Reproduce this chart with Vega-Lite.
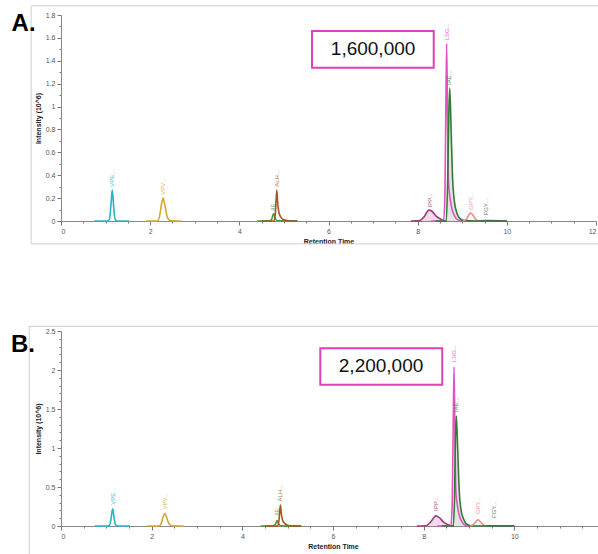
{
  "$schema": "https://vega.github.io/schema/vega-lite/v6.json",
  "padding": {"left": 10, "top": 5, "right": 0, "bottom": 0},
  "config": {"font": "Liberation Sans", "view": {"stroke": null}, "axis": {"grid": false}},
  "spacing": 80,
  "datasets": {
    "one": [{}],
    "linesA": [
      {"s": "VPE", "t": 0.75, "v": 0}, {"s": "VPE", "t": 1.05, "v": 0}, {"s": "VPE", "t": 1.09, "v": 0.02}, {"s": "VPE", "t": 1.12, "v": 0.14}, {"s": "VPE", "t": 1.15, "v": 0.27}, {"s": "VPE", "t": 1.18, "v": 0.13}, {"s": "VPE", "t": 1.21, "v": 0.02}, {"s": "VPE", "t": 1.26, "v": 0}, {"s": "VPE", "t": 1.52, "v": 0},
      {"s": "VPV", "t": 1.9, "v": 0}, {"s": "VPV", "t": 2.16, "v": 0}, {"s": "VPV", "t": 2.21, "v": 0.04}, {"s": "VPV", "t": 2.25, "v": 0.14}, {"s": "VPV", "t": 2.29, "v": 0.2}, {"s": "VPV", "t": 2.33, "v": 0.14}, {"s": "VPV", "t": 2.38, "v": 0.04}, {"s": "VPV", "t": 2.45, "v": 0.005}, {"s": "VPV", "t": 2.7, "v": 0},
      {"s": "IIE", "t": 4.4, "v": 0}, {"s": "IIE", "t": 4.68, "v": 0}, {"s": "IIE", "t": 4.73, "v": 0.02}, {"s": "IIE", "t": 4.77, "v": 0.065}, {"s": "IIE", "t": 4.8, "v": 0.03}, {"s": "IIE", "t": 4.84, "v": 0.004}, {"s": "IIE", "t": 5.3, "v": 0},
      {"s": "ALH", "t": 4.5, "v": 0}, {"s": "ALH", "t": 4.78, "v": 0}, {"s": "ALH", "t": 4.81, "v": 0.08}, {"s": "ALH", "t": 4.84, "v": 0.27}, {"s": "ALH", "t": 4.86, "v": 0.16}, {"s": "ALH", "t": 4.89, "v": 0.07}, {"s": "ALH", "t": 4.94, "v": 0.03}, {"s": "ALH", "t": 5.0, "v": 0.01}, {"s": "ALH", "t": 5.1, "v": 0.002}, {"s": "ALH", "t": 5.3, "v": 0},
      {"s": "IPP", "t": 7.85, "v": 0}, {"s": "IPP", "t": 8.05, "v": 0.003}, {"s": "IPP", "t": 8.15, "v": 0.04}, {"s": "IPP", "t": 8.25, "v": 0.095}, {"s": "IPP", "t": 8.32, "v": 0.085}, {"s": "IPP", "t": 8.42, "v": 0.04}, {"s": "IPP", "t": 8.52, "v": 0.015}, {"s": "IPP", "t": 8.6, "v": 0.003}, {"s": "IPP", "t": 8.65, "v": 0},
      {"s": "LSG", "t": 8.3, "v": 0}, {"s": "LSG", "t": 8.58, "v": 0}, {"s": "LSG", "t": 8.61, "v": 0.2}, {"s": "LSG", "t": 8.63, "v": 0.9}, {"s": "LSG", "t": 8.65, "v": 1.55}, {"s": "LSG", "t": 8.67, "v": 0.9}, {"s": "LSG", "t": 8.69, "v": 0.35}, {"s": "LSG", "t": 8.72, "v": 0.22}, {"s": "LSG", "t": 8.76, "v": 0.12}, {"s": "LSG", "t": 8.82, "v": 0.05}, {"s": "LSG", "t": 8.9, "v": 0.01}, {"s": "LSG", "t": 9.0, "v": 0},
      {"s": "IAE", "t": 8.4, "v": 0}, {"s": "IAE", "t": 8.64, "v": 0}, {"s": "IAE", "t": 8.67, "v": 0.3}, {"s": "IAE", "t": 8.7, "v": 0.95}, {"s": "IAE", "t": 8.72, "v": 1.16}, {"s": "IAE", "t": 8.75, "v": 0.8}, {"s": "IAE", "t": 8.78, "v": 0.4}, {"s": "IAE", "t": 8.82, "v": 0.18}, {"s": "IAE", "t": 8.88, "v": 0.07}, {"s": "IAE", "t": 8.95, "v": 0.02}, {"s": "IAE", "t": 9.05, "v": 0.003}, {"s": "IAE", "t": 9.3, "v": 0}, {"s": "IAE", "t": 10.0, "v": 0},
      {"s": "GPY", "t": 9.02, "v": 0}, {"s": "GPY", "t": 9.1, "v": 0.02}, {"s": "GPY", "t": 9.16, "v": 0.06}, {"s": "GPY", "t": 9.19, "v": 0.07}, {"s": "GPY", "t": 9.24, "v": 0.05}, {"s": "GPY", "t": 9.3, "v": 0.015}, {"s": "GPY", "t": 9.38, "v": 0},
      {"s": "FGY", "t": 9.3, "v": 0}, {"s": "FGY", "t": 9.5, "v": 0.003}, {"s": "FGY", "t": 9.6, "v": 0.003}, {"s": "FGY", "t": 10.0, "v": 0}
    ],
    "labelsA": [
      {"s": "VPE", "t": 1.15, "v": 0.29, "lab": "VPE..."},
      {"s": "VPV", "t": 2.29, "v": 0.22, "lab": "VPV..."},
      {"s": "IIE", "t": 4.76, "v": 0.08, "lab": "IIE"},
      {"s": "ALH", "t": 4.84, "v": 0.29, "lab": "ALH..."},
      {"s": "IPP", "t": 8.27, "v": 0.11, "lab": "IPP..."},
      {"s": "LSG", "t": 8.65, "v": 1.57, "lab": "LSG..."},
      {"s": "IAE", "t": 8.71, "v": 1.18, "lab": "IAE..."},
      {"s": "GPY", "t": 9.19, "v": 0.09, "lab": "GPY..."},
      {"s": "FGY", "t": 9.53, "v": 0.04, "lab": "FGY..."}
    ],
    "linesB": [
      {"s": "VPE", "t": 0.75, "v": 0}, {"s": "VPE", "t": 1.04, "v": 0}, {"s": "VPE", "t": 1.08, "v": 0.02}, {"s": "VPE", "t": 1.11, "v": 0.12}, {"s": "VPE", "t": 1.14, "v": 0.22}, {"s": "VPE", "t": 1.17, "v": 0.11}, {"s": "VPE", "t": 1.2, "v": 0.02}, {"s": "VPE", "t": 1.25, "v": 0}, {"s": "VPE", "t": 1.52, "v": 0},
      {"s": "VPV", "t": 1.9, "v": 0}, {"s": "VPV", "t": 2.16, "v": 0}, {"s": "VPV", "t": 2.21, "v": 0.03}, {"s": "VPV", "t": 2.25, "v": 0.11}, {"s": "VPV", "t": 2.29, "v": 0.16}, {"s": "VPV", "t": 2.33, "v": 0.11}, {"s": "VPV", "t": 2.38, "v": 0.03}, {"s": "VPV", "t": 2.45, "v": 0.004}, {"s": "VPV", "t": 2.7, "v": 0},
      {"s": "IIE", "t": 4.4, "v": 0}, {"s": "IIE", "t": 4.68, "v": 0}, {"s": "IIE", "t": 4.73, "v": 0.025}, {"s": "IIE", "t": 4.77, "v": 0.07}, {"s": "IIE", "t": 4.8, "v": 0.03}, {"s": "IIE", "t": 4.84, "v": 0.004}, {"s": "IIE", "t": 5.3, "v": 0},
      {"s": "ALH", "t": 4.5, "v": 0}, {"s": "ALH", "t": 4.78, "v": 0}, {"s": "ALH", "t": 4.81, "v": 0.08}, {"s": "ALH", "t": 4.84, "v": 0.27}, {"s": "ALH", "t": 4.86, "v": 0.16}, {"s": "ALH", "t": 4.89, "v": 0.07}, {"s": "ALH", "t": 4.94, "v": 0.03}, {"s": "ALH", "t": 5.0, "v": 0.01}, {"s": "ALH", "t": 5.1, "v": 0.002}, {"s": "ALH", "t": 5.3, "v": 0},
      {"s": "IPP", "t": 7.85, "v": 0}, {"s": "IPP", "t": 8.05, "v": 0.004}, {"s": "IPP", "t": 8.15, "v": 0.05}, {"s": "IPP", "t": 8.27, "v": 0.13}, {"s": "IPP", "t": 8.34, "v": 0.11}, {"s": "IPP", "t": 8.44, "v": 0.05}, {"s": "IPP", "t": 8.54, "v": 0.015}, {"s": "IPP", "t": 8.62, "v": 0.003}, {"s": "IPP", "t": 8.67, "v": 0},
      {"s": "LSG", "t": 8.3, "v": 0}, {"s": "LSG", "t": 8.6, "v": 0}, {"s": "LSG", "t": 8.63, "v": 0.3}, {"s": "LSG", "t": 8.65, "v": 1.2}, {"s": "LSG", "t": 8.67, "v": 2.04}, {"s": "LSG", "t": 8.69, "v": 1.2}, {"s": "LSG", "t": 8.71, "v": 0.45}, {"s": "LSG", "t": 8.74, "v": 0.28}, {"s": "LSG", "t": 8.78, "v": 0.15}, {"s": "LSG", "t": 8.84, "v": 0.06}, {"s": "LSG", "t": 8.92, "v": 0.01}, {"s": "LSG", "t": 9.02, "v": 0},
      {"s": "IAE", "t": 8.4, "v": 0}, {"s": "IAE", "t": 8.65, "v": 0}, {"s": "IAE", "t": 8.68, "v": 0.35}, {"s": "IAE", "t": 8.7, "v": 1.1}, {"s": "IAE", "t": 8.72, "v": 1.41}, {"s": "IAE", "t": 8.75, "v": 1.0}, {"s": "IAE", "t": 8.78, "v": 0.5}, {"s": "IAE", "t": 8.82, "v": 0.22}, {"s": "IAE", "t": 8.88, "v": 0.09}, {"s": "IAE", "t": 8.95, "v": 0.025}, {"s": "IAE", "t": 9.05, "v": 0.004}, {"s": "IAE", "t": 9.3, "v": 0}, {"s": "IAE", "t": 10.0, "v": 0},
      {"s": "GPY", "t": 9.03, "v": 0}, {"s": "GPY", "t": 9.11, "v": 0.025}, {"s": "GPY", "t": 9.17, "v": 0.07}, {"s": "GPY", "t": 9.2, "v": 0.08}, {"s": "GPY", "t": 9.25, "v": 0.055}, {"s": "GPY", "t": 9.31, "v": 0.015}, {"s": "GPY", "t": 9.39, "v": 0},
      {"s": "FGY", "t": 9.3, "v": 0}, {"s": "FGY", "t": 9.5, "v": 0.003}, {"s": "FGY", "t": 9.6, "v": 0.003}, {"s": "FGY", "t": 10.0, "v": 0}
    ],
    "labelsB": [
      {"s": "VPE", "t": 1.14, "v": 0.26, "lab": "VPE..."},
      {"s": "VPV", "t": 2.29, "v": 0.2, "lab": "VPV..."},
      {"s": "IIE", "t": 4.76, "v": 0.12, "lab": "IIE"},
      {"s": "ALH", "t": 4.84, "v": 0.3, "lab": "ALH..."},
      {"s": "IPP", "t": 8.28, "v": 0.18, "lab": "IPP..."},
      {"s": "LSG", "t": 8.67, "v": 2.09, "lab": "LSG..."},
      {"s": "IAE", "t": 8.72, "v": 1.45, "lab": "IAE..."},
      {"s": "GPY", "t": 9.2, "v": 0.14, "lab": "GPY..."},
      {"s": "FGY", "t": 9.56, "v": 0.09, "lab": "FGY..."}
    ]
  },
  "vconcat": [
    {
      "width": 535,
      "height": 206,
      "resolve": {"axis": {"x": "independent", "y": "independent"}},
      "layer": [
        {
          "data": {"name": "one"},
          "mark": {"type": "rect", "fill": "white", "fillOpacity": 0, "stroke": "#cfcfcf", "strokeWidth": 1},
          "encoding": {
            "x": {"datum": -0.67, "type": "quantitative", "scale": {"domain": [0, 12], "nice": false},
              "axis": {"orient": "bottom", "values": [0.5,1,1.5,2.5,3,3.5,4.5,5,5.5,6.5,7,7.5,8.5,9,9.5,10.5,11,11.5], "labels": false, "domain": false, "tickSize": 2, "tickColor": "#777", "title": null}},
            "x2": {"datum": 13.5},
            "y": {"datum": 1.88, "type": "quantitative", "scale": {"domain": [0, 1.8], "nice": false},
              "axis": {"orient": "left", "values": [0.1,0.3,0.5,0.7,0.9,1.1,1.3,1.5,1.7], "labels": false, "domain": false, "tickSize": 2, "tickColor": "#777", "title": null}},
            "y2": {"datum": -0.2}
          }
        },
        {
          "data": {"name": "linesA"},
          "transform": [{"filter": "datum.s === 'IPP'"}],
          "mark": {"type": "area", "color": "#f2d6e8", "opacity": 0.9, "interpolate": "monotone"},
          "encoding": {
            "x": {"field": "t", "type": "quantitative", "axis": null},
            "y": {"field": "v", "type": "quantitative", "axis": null}
          }
        },
        {
          "data": {"name": "linesA"},
          "transform": [{"filter": "datum.s === 'IAE' && datum.t < 9.2"}],
          "mark": {"type": "area", "color": "#dedede", "opacity": 0.8, "interpolate": "monotone"},
          "encoding": {
            "x": {"field": "t", "type": "quantitative", "axis": null},
            "y": {"field": "v", "type": "quantitative", "axis": null}
          }
        },
        {
          "data": {"name": "linesA"},
          "mark": {"type": "line", "strokeWidth": 1.6, "interpolate": "monotone"},
          "encoding": {
            "x": {"field": "t", "type": "quantitative",
              "axis": {"orient": "bottom", "values": [0,2,4,6,8,10,12], "tickSize": 4, "tickColor": "#777", "domainColor": "#888", "labelFontSize": 7, "labelColor": "#555", "labelPadding": 2, "title": "Retention Time", "titleFontSize": 7, "titleFontWeight": "bold", "titleColor": "#222", "titlePadding": 3}},
            "y": {"field": "v", "type": "quantitative",
              "axis": {"orient": "left", "values": [0,0.2,0.4,0.6,0.8,1,1.2,1.4,1.6,1.8], "format": "~g", "tickSize": 4, "tickColor": "#777", "domainColor": "#888", "labelFontSize": 7, "labelColor": "#555", "labelPadding": 2, "title": "Intensity (10^6)", "titleFontSize": 7, "titleFontWeight": "bold", "titleColor": "#222", "titlePadding": 4}},
            "color": {"field": "s", "type": "nominal", "legend": null,
              "scale": {"domain": ["VPE","VPV","IIE","ALH","IPP","LSG","IAE","GPY","FGY"], "range": ["#2ab2c6","#d6a82a","#3f9e3a","#a8561c","#9c3c78","#e351c3","#2e7d32","#f08a8a","#4f6e4f"]}}
          }
        },
        {
          "data": {"name": "labelsA"},
          "mark": {"type": "text", "angle": 270, "align": "left", "baseline": "middle", "fontSize": 6, "dx": 1, "opacity": 0.85},
          "encoding": {
            "x": {"field": "t", "type": "quantitative", "axis": null},
            "y": {"field": "v", "type": "quantitative", "axis": null},
            "text": {"field": "lab"},
            "color": {"field": "s", "type": "nominal", "legend": null}
          }
        },
        {
          "data": {"name": "one"},
          "mark": {"type": "rect", "fill": "white", "stroke": "#e040b8", "strokeWidth": 2},
          "encoding": {
            "x": {"datum": 5.63, "type": "quantitative", "axis": null},
            "x2": {"datum": 8.36},
            "y": {"datum": 1.66, "type": "quantitative", "axis": null},
            "y2": {"datum": 1.34}
          }
        },
        {
          "data": {"name": "one"},
          "mark": {"type": "text", "text": "1,600,000", "fontSize": 19, "color": "#111", "align": "center", "baseline": "middle"},
          "encoding": {
            "x": {"datum": 7.0, "type": "quantitative", "axis": null},
            "y": {"datum": 1.5, "type": "quantitative", "axis": null}
          }
        },
        {
          "data": {"name": "one"},
          "mark": {"type": "text", "text": "A.", "fontSize": 24, "fontWeight": "bold", "color": "#000", "align": "center", "baseline": "middle"},
          "encoding": {
            "x": {"datum": -0.84, "type": "quantitative", "axis": null},
            "y": {"datum": 1.72, "type": "quantitative", "axis": null}
          }
        }
      ]
    },
    {
      "width": 544,
      "height": 195,
      "resolve": {"axis": {"x": "independent", "y": "independent"}},
      "layer": [
        {
          "data": {"name": "one"},
          "mark": {"type": "rect", "fill": "white", "fillOpacity": 0, "stroke": "#cfcfcf", "strokeWidth": 1},
          "encoding": {
            "x": {"datum": -0.7, "type": "quantitative", "scale": {"domain": [0, 12], "nice": false},
              "axis": {"orient": "bottom", "values": [0.5,1,1.5,2.5,3,3.5,4.5,5,5.5,6.5,7,7.5,8.5,9,9.5,10.5,11,11.5], "labels": false, "domain": false, "tickSize": 2, "tickColor": "#777", "title": null}},
            "x2": {"datum": 13.5},
            "y": {"datum": 2.56, "type": "quantitative", "scale": {"domain": [0, 2.5], "nice": false},
              "axis": {"orient": "left", "values": [0.1,0.2,0.3,0.4,0.6,0.7,0.8,0.9,1.1,1.2,1.3,1.4,1.6,1.7,1.8,1.9,2.1,2.2,2.3,2.4], "labels": false, "domain": false, "tickSize": 2, "tickColor": "#777", "title": null}},
            "y2": {"datum": -0.6}
          }
        },
        {
          "data": {"name": "linesB"},
          "transform": [{"filter": "datum.s === 'IPP'"}],
          "mark": {"type": "area", "color": "#f2d6e8", "opacity": 0.9, "interpolate": "monotone"},
          "encoding": {
            "x": {"field": "t", "type": "quantitative", "axis": null},
            "y": {"field": "v", "type": "quantitative", "axis": null}
          }
        },
        {
          "data": {"name": "linesB"},
          "transform": [{"filter": "datum.s === 'IAE' && datum.t < 9.2"}],
          "mark": {"type": "area", "color": "#dedede", "opacity": 0.8, "interpolate": "monotone"},
          "encoding": {
            "x": {"field": "t", "type": "quantitative", "axis": null},
            "y": {"field": "v", "type": "quantitative", "axis": null}
          }
        },
        {
          "data": {"name": "linesB"},
          "mark": {"type": "line", "strokeWidth": 1.6, "interpolate": "monotone"},
          "encoding": {
            "x": {"field": "t", "type": "quantitative",
              "axis": {"orient": "bottom", "values": [0,2,4,6,8,10,12], "labelExpr": "datum.value >= 12 ? '' : datum.label", "tickSize": 4, "tickColor": "#777", "domainColor": "#888", "labelFontSize": 7, "labelColor": "#555", "labelPadding": 2, "title": "Retention Time", "titleFontSize": 7, "titleFontWeight": "bold", "titleColor": "#222", "titlePadding": 3}},
            "y": {"field": "v", "type": "quantitative",
              "axis": {"orient": "left", "values": [0,0.5,1,1.5,2,2.5], "format": "~g", "tickSize": 4, "tickColor": "#777", "domainColor": "#888", "labelFontSize": 7, "labelColor": "#555", "labelPadding": 2, "title": "Intensity (10^6)", "titleFontSize": 7, "titleFontWeight": "bold", "titleColor": "#222", "titlePadding": 4}},
            "color": {"field": "s", "type": "nominal", "legend": null,
              "scale": {"domain": ["VPE","VPV","IIE","ALH","IPP","LSG","IAE","GPY","FGY"], "range": ["#2ab2c6","#d6a82a","#3f9e3a","#a8561c","#9c3c78","#e351c3","#2e7d32","#f08a8a","#4f6e4f"]}}
          }
        },
        {
          "data": {"name": "labelsB"},
          "mark": {"type": "text", "angle": 270, "align": "left", "baseline": "middle", "fontSize": 6, "dx": 1, "opacity": 0.85},
          "encoding": {
            "x": {"field": "t", "type": "quantitative", "axis": null},
            "y": {"field": "v", "type": "quantitative", "axis": null},
            "text": {"field": "lab"},
            "color": {"field": "s", "type": "nominal", "legend": null}
          }
        },
        {
          "data": {"name": "one"},
          "mark": {"type": "rect", "fill": "white", "stroke": "#e040b8", "strokeWidth": 2},
          "encoding": {
            "x": {"datum": 5.72, "type": "quantitative", "axis": null},
            "x2": {"datum": 8.41},
            "y": {"datum": 2.28, "type": "quantitative", "axis": null},
            "y2": {"datum": 1.81}
          }
        },
        {
          "data": {"name": "one"},
          "mark": {"type": "text", "text": "2,200,000", "fontSize": 19, "color": "#111", "align": "center", "baseline": "middle"},
          "encoding": {
            "x": {"datum": 7.06, "type": "quantitative", "axis": null},
            "y": {"datum": 2.045, "type": "quantitative", "axis": null}
          }
        },
        {
          "data": {"name": "one"},
          "mark": {"type": "text", "text": "B.", "fontSize": 24, "fontWeight": "bold", "color": "#000", "align": "center", "baseline": "middle"},
          "encoding": {
            "x": {"datum": -0.84, "type": "quantitative", "axis": null},
            "y": {"datum": 2.32, "type": "quantitative", "axis": null}
          }
        }
      ]
    }
  ]
}
